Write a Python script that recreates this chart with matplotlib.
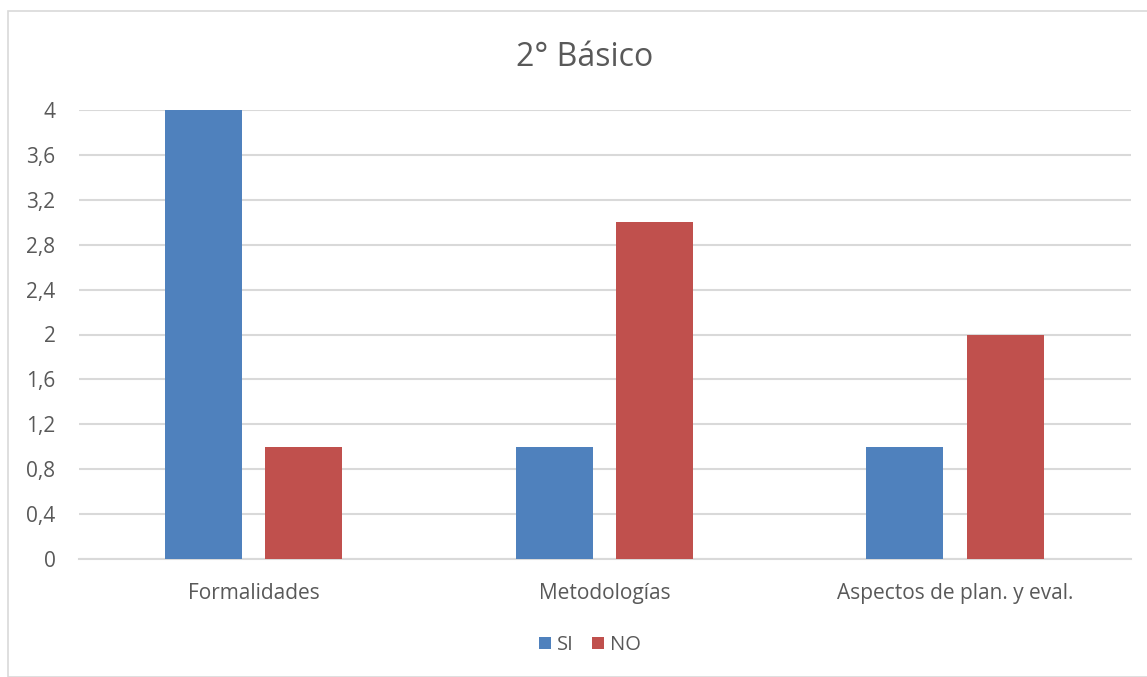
import matplotlib
matplotlib.use("Agg")
import matplotlib.pyplot as plt
import numpy as np
from matplotlib.patches import Rectangle

categories = ["Formalidades", "Metodologías", "Aspectos de plan. y eval."]
si_values = [4, 1, 1]
no_values = [1, 3, 2]
yticks = [0, 0.4, 0.8, 1.2, 1.6, 2, 2.4, 2.8, 3.2, 3.6, 4]
ytick_labels = ["0", "0,4", "0,8", "1,2", "1,6", "2", "2,4", "2,8", "3,2", "3,6", "4"]

plt.rcParams['font.family'] = ['Open Sans', 'DejaVu Sans']
txt = '#595959'

fig = plt.figure(figsize=(11.47, 6.77), dpi=100)
fig.patches.append(Rectangle((8/1147, 0), (1147-8)/1147 + 0.01, 1 - 11/677, transform=fig.transFigure,
                             fill=False, edgecolor='#D9D9D9', linewidth=1.2))
ax = fig.add_axes([79/1147, 1 - 559/677, (1131-79)/1147, (559-110)/677])

x = np.arange(len(categories))
w = 0.22
off = 0.143
ax.bar(x - off - 0.002, si_values, w, color='#4F81BD', label='SI', zorder=3)
ax.bar(x + off - 0.002, no_values, w, color='#C0504D', label='NO', zorder=3)

ax.set_xlim(-0.5, 2.5)
ax.set_ylim(0, 4)
ax.set_yticks(yticks)
ax.set_yticklabels(ytick_labels)
ax.set_xticks(x)
ax.set_xticklabels(categories)
ax.grid(axis='y', color='#D9D9D9', linewidth=1.5, zorder=0)
for s in ['top', 'right', 'left']:
    ax.spines[s].set_visible(False)
ax.spines['bottom'].set_color('#D9D9D9')
ax.spines['bottom'].set_linewidth(1.5)
ax.tick_params(axis='both', length=0, colors=txt, labelsize=15)
ax.tick_params(axis='y', pad=17)
ax.tick_params(axis='x', pad=17)
for lbl in ax.get_yticklabels():
    lbl.set_horizontalalignment('right')

fig.text(585/1147, 1 - 58/677, "2° Básico", ha='center', va='center', fontsize=23, color=txt)

leg = fig.legend(loc='center', bbox_to_anchor=(590/1147, 1 - 645/677), ncol=2, frameon=False,
                 fontsize=14.5, handlelength=0.6, handleheight=0.6, handletextpad=0.3, columnspacing=0.9)
for t in leg.get_texts():
    t.set_color(txt)

fig.savefig("out.png", dpi=100)
